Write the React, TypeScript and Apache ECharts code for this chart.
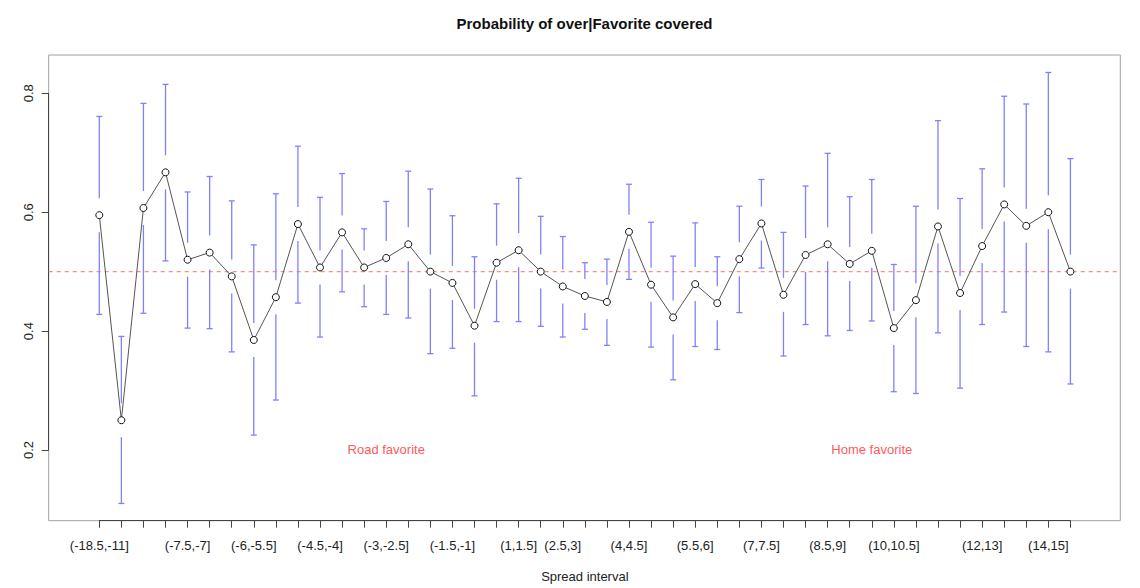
import React, { useEffect, useRef } from "react";
import * as echarts from "echarts";

const categories = [
  "(-18.5,-11]", "(-11,-9.5]", "(-9.5,-8]", "(-8,-7.5]", "(-7.5,-7]", "(-7,-6.5]",
  "(-6.5,-6]", "(-6,-5.5]", "(-5.5,-5]", "(-5,-4.5]", "(-4.5,-4]", "(-4,-3.5]",
  "(-3.5,-3]", "(-3,-2.5]", "(-2.5,-2]", "(-2,-1.5]", "(-1.5,-1]", "(-1,0]",
  "(0,1]", "(1,1.5]", "(1.5,2.5]", "(2.5,3]", "(3,3.5]", "(3.5,4]",
  "(4,4.5]", "(4.5,5]", "(5,5.5]", "(5.5,6]", "(6,6.5]", "(6.5,7]",
  "(7,7.5]", "(7.5,8]", "(8,8.5]", "(8.5,9]", "(9,9.5]", "(9.5,10]",
  "(10,10.5]", "(10.5,11]", "(11,11.5]", "(11.5,12]", "(12,13]", "(13,13.5]",
  "(13.5,14]", "(14,15]", "(15,25]",
];

// indices of the category labels that are printed under the axis
const shownLabels = [0, 4, 7, 10, 13, 16, 19, 21, 24, 27, 30, 33, 36, 40, 43];

const probability = [
  0.595, 0.250, 0.607, 0.667, 0.520, 0.532, 0.492, 0.385, 0.457, 0.580,
  0.507, 0.566, 0.507, 0.523, 0.546, 0.500, 0.481, 0.409, 0.515, 0.536,
  0.500, 0.475, 0.459, 0.449, 0.567, 0.478, 0.423, 0.479, 0.447, 0.521,
  0.581, 0.461, 0.528, 0.546, 0.513, 0.535, 0.405, 0.452, 0.576, 0.464,
  0.543, 0.613, 0.577, 0.600, 0.500,
];

const upperCI = [
  0.761, 0.391, 0.783, 0.815, 0.634, 0.660, 0.619, 0.545, 0.631, 0.711,
  0.625, 0.665, 0.572, 0.618, 0.669, 0.639, 0.594, 0.525, 0.614, 0.657,
  0.593, 0.559, 0.515, 0.521, 0.647, 0.583, 0.526, 0.582, 0.525, 0.610,
  0.655, 0.566, 0.644, 0.699, 0.626, 0.655, 0.512, 0.610, 0.754, 0.623,
  0.673, 0.795, 0.782, 0.835, 0.690,
];

const lowerCI = [
  0.428, 0.110, 0.430, 0.518, 0.405, 0.404, 0.365, 0.225, 0.284, 0.447,
  0.390, 0.466, 0.441, 0.428, 0.422, 0.362, 0.371, 0.291, 0.416, 0.416,
  0.408, 0.390, 0.403, 0.376, 0.487, 0.373, 0.318, 0.374, 0.369, 0.431,
  0.506, 0.358, 0.411, 0.392, 0.401, 0.417, 0.298, 0.295, 0.397, 0.304,
  0.411, 0.432, 0.374, 0.365, 0.311,
];

const yTicks = [0.2, 0.4, 0.6, 0.8];
const referenceLevel = 0.5;
const annotations = [
  { index: 13, value: 0.2, text: "Road favorite" },
  { index: 35, value: 0.2, text: "Home favorite" },
];

const FONT = "'Liberation Sans', Arial, Helvetica, sans-serif";
const Y_MIN = 0.081;
const Y_MAX = 0.8644;

export default function App() {
  const ref = useRef<HTMLDivElement>(null);

  useEffect(() => {
    if (!ref.current) return;
    const chart = echarts.init(ref.current, undefined, { renderer: "svg" });

    const ciData = probability.map((m, i) => [i, lowerCI[i], upperCI[i], m]);

    const option: any = {
      animation: false,
      backgroundColor: "#ffffff",
      textStyle: { fontFamily: FONT },
      title: {
        text: "Probability of over|Favorite covered",
        left: 584.5,
        top: 16,
        padding: 0,
        textAlign: "center",
        textStyle: { fontFamily: FONT, fontSize: 15, fontWeight: "bold", color: "#111" },
      },
      grid: [
        { left: 48.7, right: 19.7, top: 55, bottom: 67.3, show: true, borderColor: "#a0a0a0", borderWidth: 1, backgroundColor: "transparent" },
        { left: 99.3, right: 69.6, top: 55, bottom: 67.3 },
        { left: 48.7, width: 1, top: 93.3, height: 356.7 },
      ],
      xAxis: [
        { gridIndex: 0, type: "value", min: 0, max: 1, show: false },
        {
          gridIndex: 1,
          type: "category",
          data: categories,
          boundaryGap: false,
          name: "Spread interval",
          nameLocation: "middle",
          nameGap: 49,
          nameTextStyle: { fontFamily: FONT, fontSize: 13, color: "#222" },
          axisLine: { show: true, lineStyle: { color: "#444", width: 1 } },
          axisTick: { show: true, interval: 0, length: 7, lineStyle: { color: "#444", width: 1 } },
          axisLabel: {
            interval: (index: number) => shownLabels.indexOf(index) >= 0,
            margin: 18,
            fontFamily: FONT,
            fontSize: 13,
            color: "#222",
          },
          splitLine: { show: false },
        },
        { gridIndex: 2, type: "value", min: 0, max: 1, show: false },
      ],
      yAxis: [
        { gridIndex: 0, type: "value", min: Y_MIN, max: Y_MAX, show: false },
        { gridIndex: 1, type: "value", min: Y_MIN, max: Y_MAX, show: false },
        {
          gridIndex: 2,
          type: "value",
          min: yTicks[0],
          max: yTicks[yTicks.length - 1],
          interval: 0.2,
          axisLine: { show: true, lineStyle: { color: "#444", width: 1 } },
          axisTick: { show: true, length: 7, lineStyle: { color: "#444", width: 1 } },
          axisLabel: {
            rotate: 90,
            margin: 14,
            fontFamily: FONT,
            fontSize: 13,
            color: "#222",
            formatter: (v: number) => v.toFixed(1),
          },
          splitLine: { show: false },
        },
      ],
      series: [
        {
          type: "line",
          xAxisIndex: 0,
          yAxisIndex: 0,
          data: [[0, referenceLevel], [1, referenceLevel]],
          symbol: "none",
          silent: true,
          lineStyle: { color: "#ff8c8c", width: 1.2, type: [4, 4] },
          z: 1,
        },
        {
          type: "custom",
          xAxisIndex: 1,
          yAxisIndex: 1,
          data: ciData,
          clip: false,
          z: 2,
          renderItem: (params: any, api: any) => {
            const i = api.value(0);
            const lo = api.value(1);
            const hi = api.value(2);
            const m = api.value(3);
            const c = api.coord([i, m]);
            const t = api.coord([i, hi]);
            const b = api.coord([i, lo]);
            const gap = 17;
            const cap = 3;
            const style = { stroke: "#8080ff", lineWidth: 1.3 };
            const children: any[] = [];
            if (t[1] < c[1] - gap) {
              children.push({ type: "line", shape: { x1: c[0], y1: c[1] - gap, x2: t[0], y2: t[1] }, style });
            }
            children.push({ type: "line", shape: { x1: t[0] - cap, y1: t[1], x2: t[0] + cap, y2: t[1] }, style });
            if (b[1] > c[1] + gap) {
              children.push({ type: "line", shape: { x1: c[0], y1: c[1] + gap, x2: b[0], y2: b[1] }, style });
            }
            children.push({ type: "line", shape: { x1: b[0] - cap, y1: b[1], x2: b[0] + cap, y2: b[1] }, style });
            return { type: "group", children };
          },
        },
        {
          type: "line",
          xAxisIndex: 1,
          yAxisIndex: 1,
          data: probability,
          symbol: "circle",
          symbolSize: 7,
          showAllSymbol: true,
          itemStyle: { color: "#ffffff", borderColor: "#111", borderWidth: 1 },
          lineStyle: { color: "#555", width: 1 },
          z: 3,
        },
        {
          type: "scatter",
          xAxisIndex: 1,
          yAxisIndex: 1,
          data: annotations.map((a) => [a.index, a.value, a.text]),
          symbolSize: 0,
          silent: true,
          label: {
            show: true,
            position: "inside",
            formatter: (p: any) => p.data[2],
            fontFamily: FONT,
            fontSize: 13,
            color: "#ff2a2a",
          },
          z: 4,
        },
      ],
    };

    chart.setOption(option);
    return () => chart.dispose();
  }, []);

  return (
    <div
      ref={ref}
      style={{ position: "absolute", left: 0, top: 0, width: 1140, height: 588 }}
    />
  );
}
